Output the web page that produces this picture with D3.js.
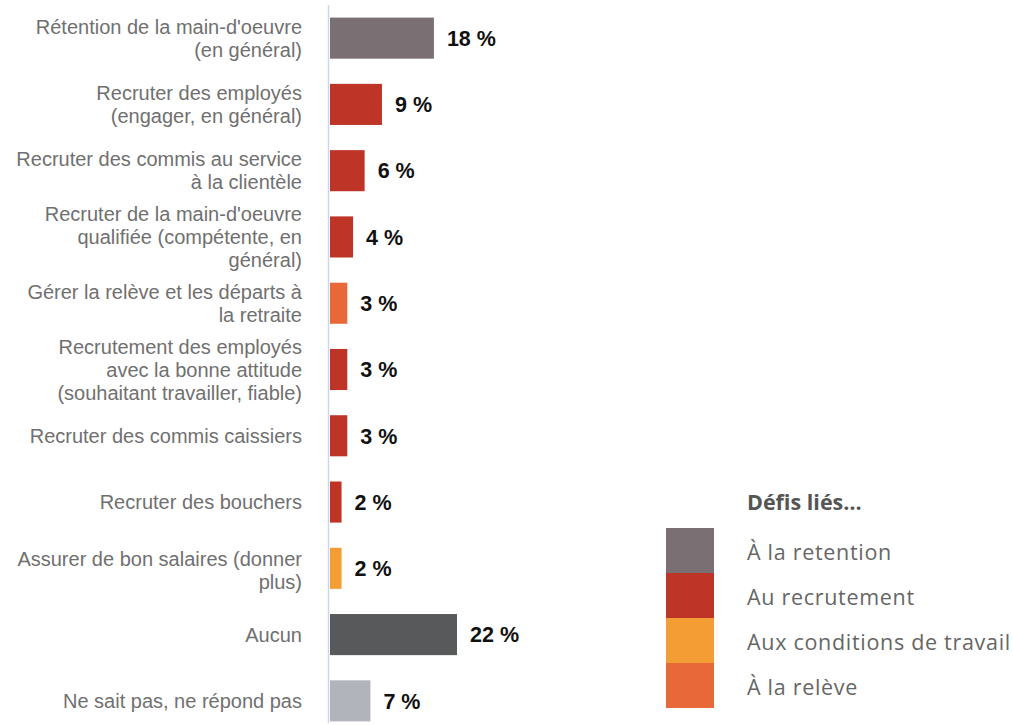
<!DOCTYPE html>
<html>
<head>
<meta charset="utf-8">
<script src="https://cdn.jsdelivr.net/npm/d3@7"></script>
<style>
  html, body { margin: 0; padding: 0; background: #ffffff; }
  svg { display: block; }
</style>
</head>
<body>
<svg id="chart" width="1013" height="725"></svg>
<script>
// Categories (each entry split into its displayed lines)
const categories = [
  ["Rétention de la main-d'oeuvre", "(en général)"],
  ["Recruter des employés", "(engager, en général)"],
  ["Recruter des commis au service", "à la clientèle"],
  ["Recruter de la main-d'oeuvre", "qualifiée (compétente, en", "général)"],
  ["Gérer la relève et les départs à", "la retraite"],
  ["Recrutement des employés", "avec la bonne attitude", "(souhaitant travailler, fiable)"],
  ["Recruter des commis caissiers"],
  ["Recruter des bouchers"],
  ["Assurer de bon salaires (donner", "plus)"],
  ["Aucun"],
  ["Ne sait pas, ne répond pas"]
];
const values = [18, 9, 6, 4, 3, 3, 3, 2, 2, 22, 7];
const groups = ["retention", "recrutement", "recrutement", "recrutement", "releve",
                "recrutement", "recrutement", "recrutement", "conditions", "aucun", "nsp"];

const legendTitle = "Défis liés…";
const legendKeys = ["retention", "recrutement", "conditions", "releve"];
const legendLabels = ["À la retention", "Au recrutement", "Aux conditions de travail", "À la relève"];

const color = d3.scaleOrdinal()
  .domain(["retention", "recrutement", "conditions", "releve", "aucun", "nsp"])
  .range(["#7a6f72", "#be3527", "#f59d35", "#e8683a", "#58595b", "#b1b4bb"]);

const svg = d3.select("#chart");
const x0 = 330;

const x = d3.scaleLinear().domain([0, 22]).range([x0, x0 + 127]);
const y = d3.scaleBand()
  .domain(d3.range(categories.length))
  .range([5, 734])
  .paddingInner(0.38)
  .paddingOuter(0.19);

// vertical baseline
svg.append("line")
  .attr("x1", 328.5).attr("x2", 328.5)
  .attr("y1", 5).attr("y2", 723)
  .attr("stroke", "#cdd6ea").attr("stroke-width", 1.5);

// bars
svg.append("g").selectAll("rect")
  .data(values)
  .join("rect")
  .attr("x", x(0))
  .attr("y", (d, i) => y(i))
  .attr("width", d => x(d) - x(0))
  .attr("height", y.bandwidth())
  .attr("fill", (d, i) => color(groups[i]));

// value labels
svg.append("g").selectAll("text")
  .data(values)
  .join("text")
  .attr("x", d => x(d) + 13)
  .attr("y", (d, i) => y(i) + y.bandwidth() / 2)
  .attr("dy", "0.36em")
  .attr("font-family", "Liberation Sans, Arial, sans-serif")
  .attr("font-weight", "bold")
  .attr("font-size", 21.5)
  .attr("fill", "#111111")
  .text(d => d + " %");

// category labels
const lineH = 23;
const cat = svg.append("g").selectAll("text")
  .data(categories)
  .join("text")
  .attr("text-anchor", "end")
  .attr("font-family", "Liberation Sans, Arial, sans-serif")
  .attr("font-size", 20)
  .attr("fill", "#707070")
  .attr("transform", (d, i) => `translate(302, ${y(i) + y.bandwidth() / 2 + (i === 8 ? 2 : 0)})`);

cat.selectAll("tspan")
  .data(d => d.map((t, k) => ({ t, k, n: d.length })))
  .join("tspan")
  .attr("x", 0)
  .attr("y", d => (d.k - (d.n - 1) / 2) * lineH)
  .attr("dy", "0.35em")
  .text(d => d.t);

// legend
const legend = svg.append("g");
legend.append("text")
  .attr("x", 747).attr("y", 510)
  .attr("font-family", "Open Sans, sans-serif")
  .attr("font-weight", "bold")
  .attr("font-size", 21.5)
  .attr("fill", "#555555")
  .text(legendTitle);

const sw = d3.scaleBand().domain(legendKeys).range([528, 708]);
legend.selectAll("rect")
  .data(legendKeys)
  .join("rect")
  .attr("x", 666)
  .attr("y", d => sw(d))
  .attr("width", 48)
  .attr("height", sw.bandwidth())
  .attr("fill", d => color(d));

legend.selectAll("text.item")
  .data(legendKeys)
  .join("text")
  .attr("class", "item")
  .attr("x", 747)
  .attr("y", d => sw(d) + sw.bandwidth() / 2 + 2)
  .attr("dy", "0.35em")
  .attr("font-family", "Open Sans, sans-serif")
  .attr("font-size", 21.5)
  .attr("letter-spacing", 0.7)
  .attr("fill", "#666666")
  .text((d, i) => legendLabels[i]);
</script>
</body>
</html>
